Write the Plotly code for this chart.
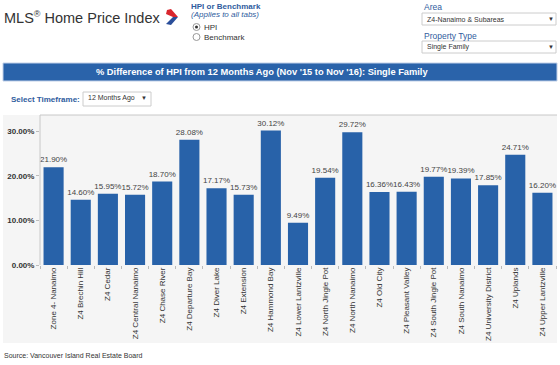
import plotly.graph_objects as go

categories = ["Zone 4- Nanaimo", "Z4 Brechin Hill", "Z4 Cedar", "Z4 Central Nanaimo",
              "Z4 Chase River", "Z4 Departure Bay", "Z4 Diver Lake", "Z4 Extension",
              "Z4 Hammond Bay", "Z4 Lower Lantzville", "Z4 North Jingle Pot",
              "Z4 North Nanaimo", "Z4 Old City", "Z4 Pleasant Valley", "Z4 South Jingle Pot",
              "Z4 South Nanaimo", "Z4 University District", "Z4 Uplands", "Z4 Upper Lantzville"]
values = [21.90, 14.60, 15.95, 15.72, 18.70, 28.08, 17.17, 15.73, 30.12, 9.49, 19.54,
          29.72, 16.36, 16.43, 19.77, 19.39, 17.85, 24.71, 16.20]
tick_vals = [0, 10, 20, 30]
tick_text = ["0.00%", "10.00%", "20.00%", "30.00%"]

W, H = 560, 365
L, R, T, B = 40, 4, 115, 100
PW, PH = W - L - R, H - T - B

def px(x):
    return (x - L) / PW

def py(y):
    return (H - B - y) / PH

BLUE = "#2862A9"
HDR = "#2F5C9E"
FONT = "Liberation Sans, Arial, sans-serif"

fig = go.Figure()
fig.add_trace(go.Bar(
    x=categories, y=values,
    marker=dict(color=BLUE, line=dict(width=0)),
    text=[f"{v:.2f}%" for v in values], textposition="outside",
    textfont=dict(size=8, color="#444", family=FONT),
    constraintext="none",
    cliponaxis=False, hoverinfo="skip",
))

shapes = []
annotations = []

# gray chart container
shapes.append(dict(type="rect", xref="paper", yref="paper", x0=px(3), x1=px(557), y0=py(343), y1=py(115),
                   fillcolor="#f5f5f5", line=dict(width=0), layer="below"))
# plot borders (top and left)
shapes.append(dict(type="line", xref="paper", yref="paper", x0=px(40), x1=px(557), y0=py(115), y1=py(115),
                   line=dict(color="#c8c8c8", width=1)))
shapes.append(dict(type="line", xref="paper", yref="paper", x0=px(40), x1=px(40), y0=py(115), y1=py(265),
                   line=dict(color="#c8c8c8", width=1)))
# title band
shapes.append(dict(type="rect", xref="paper", yref="paper", x0=px(3), x1=px(557), y0=py(81), y1=py(63),
                   fillcolor="#2A63AA", line=dict(color="#c0d0e8", width=1)))
annotations.append(dict(xref="paper", yref="paper", x=px(262), y=py(72), showarrow=False,
                        text="<b>% Difference of HPI from 12 Months Ago (Nov '15 to Nov '16): Single Family</b>",
                        font=dict(size=9.3, color="white", family=FONT), xanchor="center", yanchor="middle"))

# header title
annotations.append(dict(xref="paper", yref="paper", x=px(2), y=py(17), showarrow=False,
                        text="MLS<sup><span style='font-size:9px'>®</span></sup> Home Price Index",
                        xanchor="left", yanchor="middle",
                        font=dict(size=14.5, color="#333", family=FONT)))
# logo chevron
def path(points):
    s = "M " + " L ".join(f"{px(a)},{py(b)}" for a, b in points) + " Z"
    return s
shapes.append(dict(type="path", xref="paper", yref="paper",
                   path=path([(167, 10), (171, 9), (178, 17), (173, 17), (166, 14)]),
                   fillcolor="#D9262E", line=dict(width=0)))
shapes.append(dict(type="path", xref="paper", yref="paper",
                   path=path([(173, 17), (178, 17), (171, 25), (166, 24), (169, 21)]),
                   fillcolor="#2A4E9A", line=dict(width=0)))

# HPI or Benchmark
annotations.append(dict(xref="paper", yref="paper", x=px(189), y=py(6), showarrow=False,
                        text="<b>HPI or Benchmark</b>", xanchor="left", yanchor="middle",
                        font=dict(size=8, color=HDR, family=FONT)))
annotations.append(dict(xref="paper", yref="paper", x=px(189), y=py(15), showarrow=False,
                        text="<i>(Applies to all tabs)</i>", xanchor="left", yanchor="middle",
                        font=dict(size=8, color=HDR, family=FONT)))
for yy, lab, sel in [(27, "HPI", True), (37, "Benchmark", False)]:
    shapes.append(dict(type="circle", xref="paper", yref="paper", x0=px(193), x1=px(200),
                       y0=py(yy + 3.5), y1=py(yy - 3.5), line=dict(color="#999", width=1), fillcolor="white"))
    if sel:
        shapes.append(dict(type="circle", xref="paper", yref="paper", x0=px(195), x1=px(198),
                           y0=py(yy + 1.5), y1=py(yy - 1.5), line=dict(width=0), fillcolor="#333"))
    annotations.append(dict(xref="paper", yref="paper", x=px(202), y=py(yy), showarrow=False,
                            text=lab, xanchor="left", yanchor="middle",
                            font=dict(size=8, color="#333", family=FONT)))

# Area / Property type dropdowns
for ly, by0, by1, lab, val in [(7, 13, 25, "Area", "Z4-Nanaimo & Subareas"),
                               (36, 41, 53, "Property Type", "Single Family")]:
    annotations.append(dict(xref="paper", yref="paper", x=px(422), y=py(ly), showarrow=False,
                            text=lab, xanchor="left", yanchor="middle",
                            font=dict(size=8.5, color=HDR, family=FONT)))
    shapes.append(dict(type="rect", xref="paper", yref="paper", x0=px(422), x1=px(556),
                       y0=py(by1), y1=py(by0), line=dict(color="#cccccc", width=1), fillcolor="white"))
    annotations.append(dict(xref="paper", yref="paper", x=px(425), y=py((by0 + by1) / 2), showarrow=False,
                            text=val, xanchor="left", yanchor="middle",
                            font=dict(size=7, color="#333", family=FONT)))
    annotations.append(dict(xref="paper", yref="paper", x=px(551), y=py((by0 + by1) / 2), showarrow=False,
                            text="▼", xanchor="center", yanchor="middle",
                            font=dict(size=6, color="#333", family=FONT)))

# Select Timeframe
annotations.append(dict(xref="paper", yref="paper", x=px(9), y=py(100), showarrow=False,
                        text="<b>Select Timeframe:</b>", xanchor="left", yanchor="middle",
                        font=dict(size=8, color=HDR, family=FONT)))
shapes.append(dict(type="rect", xref="paper", yref="paper", x0=px(83), x1=px(151),
                   y0=py(106), y1=py(92), line=dict(color="#cccccc", width=1), fillcolor="white"))
annotations.append(dict(xref="paper", yref="paper", x=px(86), y=py(98.5), showarrow=False,
                        text="12 Months Ago", xanchor="left", yanchor="middle",
                        font=dict(size=7, color="#333", family=FONT)))
annotations.append(dict(xref="paper", yref="paper", x=px(144), y=py(98.5), showarrow=False,
                        text="▼", xanchor="center", yanchor="middle",
                        font=dict(size=6, color="#333", family=FONT)))

# Source
annotations.append(dict(xref="paper", yref="paper", x=px(2), y=py(355), showarrow=False,
                        text="Source: Vancouver Island Real Estate Board", xanchor="left", yanchor="middle",
                        font=dict(size=7, color="#333", family=FONT)))

fig.update_layout(
    width=W, height=H,
    margin=dict(l=L, r=R, t=T, b=B, pad=0),
    paper_bgcolor="white", plot_bgcolor="#f5f5f5",
    bargap=0.26, showlegend=False,
    shapes=shapes, annotations=annotations,
    xaxis=dict(tickangle=-90, tickfont=dict(size=8, color="#333", family=FONT),
               ticks="outside", ticklen=3, tickcolor="#bbb", tickson="boundaries",
               showline=False, showgrid=False, fixedrange=True),
    yaxis=dict(range=[0, 33.6], tickvals=tick_vals, ticktext=[f"<b>{t}</b>" for t in tick_text],
               tickfont=dict(size=8, color="#333", family=FONT), ticks="outside", ticklen=3,
               tickcolor="#bbb", showgrid=False, zeroline=False, showline=False, fixedrange=True),
)

fig.write_html("out.html", config={"displayModeBar": False},
               post_script="document.body.style.margin='0';document.body.style.padding='0';")
